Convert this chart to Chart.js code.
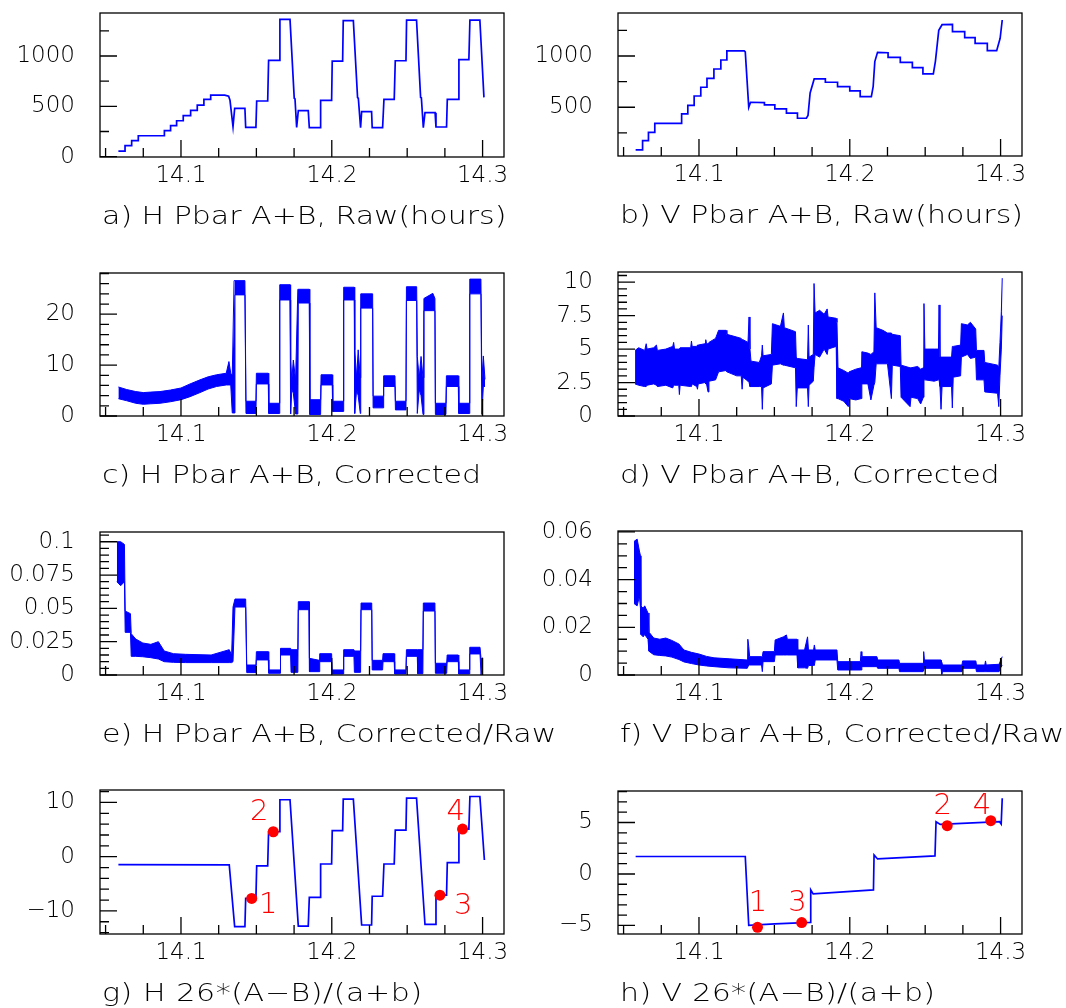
<!DOCTYPE html>
<html>
<head>
<meta charset="utf-8">
<script src="https://cdn.jsdelivr.net/npm/chart.js@4.4.1/dist/chart.umd.min.js"></script>
<style>
  html, body { margin: 0; padding: 0; background: #fff; }
  #page { position: relative; width: 1066px; height: 1008px; overflow: hidden; background: #fff; }
  #page canvas { position: absolute; }
</style>
</head>
<body>
<div id="page"></div>
<script>
// ---- time axis (hours) ----
const X_MIN = 14.0463, X_MAX = 14.3142;
const X_MAJOR = [14.1, 14.2, 14.3];
const X_MINOR_STEP = 0.025;

// ---- a) H Pbar A+B raw sum: [hour, counts] ----
const hRaw = [[14.0585,56],[14.0629,56],[14.0629,109],[14.0673,109],[14.0673,159],[14.0717,159],[14.0717,208],[14.0890,208],[14.0890,258],[14.0931,258],[14.0931,308],[14.0971,308],[14.0971,357],[14.1015,357],[14.1015,407],[14.1064,407],[14.1064,460],[14.1108,460],[14.1108,513],[14.1152,513],[14.1152,569],[14.1197,569],[14.1197,612],[14.1290,612],[14.1316,600],[14.1325,560],[14.1345,298],[14.1356,480],[14.1424,480],[14.1429,291],[14.1497,291],[14.1502,553],[14.1575,553],[14.1581,957],[14.1652,957],[14.1656,1364],[14.1723,1364],[14.1751,580],[14.1756,575],[14.1767,290],[14.1778,457],[14.1844,457],[14.1851,288],[14.1922,288],[14.1926,560],[14.1999,560],[14.2003,950],[14.2072,950],[14.2076,1351],[14.2143,1351],[14.2171,586],[14.2176,580],[14.2191,288],[14.2198,447],[14.2264,447],[14.2268,288],[14.2337,288],[14.2346,570],[14.2414,570],[14.2421,953],[14.2492,953],[14.2496,1357],[14.2562,1357],[14.2589,589],[14.2594,585],[14.2607,288],[14.2618,437],[14.2685,437],[14.2691,295],[14.2761,295],[14.2766,570],[14.2839,570],[14.2843,963],[14.2909,963],[14.2916,1357],[14.2982,1357],[14.3009,589]];

// ---- b) V Pbar A+B raw sum ----
const vRaw = [[14.0580,84],[14.0626,84],[14.0626,175],[14.0665,175],[14.0665,256],[14.0707,256],[14.0707,344],[14.0885,344],[14.0885,435],[14.0926,435],[14.0926,519],[14.0968,519],[14.0968,610],[14.1012,610],[14.1012,695],[14.1053,695],[14.1053,782],[14.1099,782],[14.1099,873],[14.1145,873],[14.1145,961],[14.1185,961],[14.1185,1049],[14.1300,1049],[14.1307,1040],[14.1330,500],[14.1342,549],[14.1434,545],[14.1434,523],[14.1503,523],[14.1503,484],[14.1580,484],[14.1580,442],[14.1653,442],[14.1653,393],[14.1712,393],[14.1723,420],[14.1737,640],[14.1764,776],[14.1838,776],[14.1838,744],[14.1919,744],[14.1919,701],[14.2000,701],[14.2000,659],[14.2069,659],[14.2069,604],[14.2143,604],[14.2155,700],[14.2166,945],[14.2184,1036],[14.2254,1032],[14.2254,987],[14.2335,987],[14.2335,938],[14.2415,938],[14.2415,886],[14.2485,886],[14.2485,825],[14.2554,825],[14.2568,950],[14.2590,1250],[14.2612,1305],[14.2681,1308],[14.2681,1237],[14.2762,1237],[14.2762,1179],[14.2831,1179],[14.2831,1123],[14.2912,1123],[14.2912,1052],[14.2974,1052],[14.2997,1172],[14.3011,1351]];

// ---- c) H corrected: noise envelope [hour, low, high] ----
const hCorr = [[14.0585,3.4,5.7],[14.0640,3.0,5.2],[14.0700,2.5,4.8],[14.0750,2.3,4.6],[14.0800,2.4,4.7],[14.0861,2.5,4.8],[14.0930,2.8,5.1],[14.1000,3.2,5.5],[14.1060,3.8,6.3],[14.1126,4.6,7.1],[14.1180,5.3,7.7],[14.1236,5.8,8.1],[14.1300,6.1,8.4],[14.1318,6.1,10.7],[14.1330,6.1,8.4],[14.1340,0.6,8.0],[14.1352,0.6,26.6],[14.1358,23.8,26.6],[14.1424,23.8,26.6],[14.1431,0.5,2.9],[14.1497,0.5,2.9],[14.1500,6.3,8.4],[14.1579,6.3,8.4],[14.1582,0.5,2.5],[14.1652,0.5,2.5],[14.1655,22.8,25.8],[14.1723,22.8,25.8],[14.1727,0.4,11.0],[14.1735,5.2,7.1],[14.1745,4.5,11.0],[14.1760,0.4,7.1],[14.1775,0.4,24.9],[14.1778,22.2,24.9],[14.1851,22.2,24.9],[14.1854,0.3,3.2],[14.1926,0.3,3.2],[14.1929,6.1,8.1],[14.2003,6.1,8.1],[14.2006,0.9,2.9],[14.2076,0.9,2.9],[14.2079,22.8,25.3],[14.2149,22.8,25.3],[14.2152,0.5,13.0],[14.2165,5.2,7.5],[14.2175,4.0,13.0],[14.2189,0.5,7.5],[14.2192,21.2,24.0],[14.2271,21.2,24.0],[14.2274,1.6,3.9],[14.2341,1.6,3.9],[14.2344,5.8,7.9],[14.2419,5.8,7.9],[14.2422,1.2,2.9],[14.2492,1.2,2.9],[14.2495,22.7,25.4],[14.2563,22.7,25.4],[14.2567,0.5,11.7],[14.2580,5.2,7.5],[14.2592,4.0,11.7],[14.2605,0.3,7.5],[14.2611,20.7,23.1],[14.2670,20.7,24.1],[14.2684,20.7,23.1],[14.2687,0.3,2.5],[14.2757,0.3,2.5],[14.2760,5.8,7.9],[14.2839,5.8,7.9],[14.2842,0.5,2.5],[14.2912,0.5,2.5],[14.2915,24.0,26.9],[14.2989,24.0,26.9],[14.2995,0.3,7.0],[14.3005,5.8,11.8],[14.3016,5.8,7.2]];

// ---- d) V corrected ----
const vCorr = [[14.0576,2.4,4.9],[14.0600,2.3,5.1],[14.0640,2.2,4.9],[14.0650,2.2,5.4],[14.0656,2.3,5.0],[14.0700,2.4,5.1],[14.0718,2.3,5.3],[14.0724,2.2,4.9],[14.0780,2.3,5.0],[14.0826,2.1,5.2],[14.0832,2.3,5.5],[14.0838,2.3,5.0],[14.0866,2.3,5.0],[14.0870,1.6,5.0],[14.0875,2.3,5.1],[14.0945,2.2,5.1],[14.0950,2.2,5.6],[14.0955,2.4,5.2],[14.0985,2.2,5.2],[14.0990,2.0,5.3],[14.0995,2.4,5.3],[14.1040,2.5,5.4],[14.1045,2.4,5.7],[14.1050,2.4,5.4],[14.1060,1.8,5.4],[14.1066,2.6,5.5],[14.1110,2.7,5.8],[14.1130,3.3,6.4],[14.1180,3.4,6.4],[14.1185,3.3,6.1],[14.1250,3.0,5.9],[14.1280,3.0,5.8],[14.1286,2.0,5.7],[14.1292,2.9,5.7],[14.1325,2.6,5.5],[14.1332,2.5,7.4],[14.1338,2.2,5.0],[14.1345,2.2,4.1],[14.1400,2.2,4.0],[14.1415,2.2,4.5],[14.1420,0.5,5.3],[14.1425,2.1,4.5],[14.1480,2.4,4.6],[14.1487,3.8,6.9],[14.1540,3.9,6.7],[14.1560,3.8,7.7],[14.1566,3.8,6.6],[14.1640,3.6,6.3],[14.1645,0.7,4.4],[14.1652,2.1,4.3],[14.1720,2.1,4.2],[14.1725,0.7,6.8],[14.1730,2.3,4.4],[14.1758,2.6,4.6],[14.1763,3.6,9.9],[14.1770,4.6,7.7],[14.1800,4.4,7.9],[14.1830,5.0,7.6],[14.1850,4.6,8.0],[14.1856,5.0,7.4],[14.1910,5.2,7.3],[14.1915,1.3,7.0],[14.1922,1.3,3.6],[14.1960,1.1,3.4],[14.1990,0.7,3.2],[14.1996,1.3,3.3],[14.2040,1.2,3.5],[14.2075,1.3,3.6],[14.2080,2.4,4.8],[14.2120,2.4,4.7],[14.2140,1.2,4.6],[14.2160,2.3,4.8],[14.2166,2.5,9.2],[14.2175,3.9,6.6],[14.2220,3.9,6.4],[14.2250,3.9,6.2],[14.2276,1.3,6.2],[14.2282,3.8,6.1],[14.2335,3.7,6.0],[14.2340,1.4,3.8],[14.2400,0.7,3.6],[14.2406,1.4,3.6],[14.2450,1.3,3.7],[14.2470,0.9,3.5],[14.2488,1.4,3.6],[14.2492,2.7,8.4],[14.2498,2.7,5.0],[14.2560,2.6,5.0],[14.2588,2.7,5.0],[14.2592,2.7,8.3],[14.2598,2.2,4.4],[14.2605,0.5,4.4],[14.2612,2.2,4.4],[14.2675,2.2,4.4],[14.2680,0.6,5.2],[14.2686,2.9,5.2],[14.2735,3.0,5.3],[14.2740,4.4,6.9],[14.2780,4.6,6.8],[14.2800,4.3,7.0],[14.2835,4.4,6.5],[14.2840,2.7,4.9],[14.2890,2.7,4.9],[14.2895,1.8,4.0],[14.2980,1.7,3.8],[14.2988,0.7,3.6],[14.2996,3.0,5.5],[14.3005,5.0,7.8],[14.3011,7.5,10.3]];

// ---- e) H corrected / raw ----
const hRatio = [[14.0575,0.070,0.100],[14.0600,0.067,0.100],[14.0625,0.070,0.098],[14.0630,0.032,0.048],[14.0665,0.032,0.046],[14.0670,0.014,0.031],[14.0700,0.014,0.027],[14.0747,0.0137,0.024],[14.0800,0.013,0.023],[14.0850,0.012,0.025],[14.0889,0.010,0.018],[14.0950,0.0095,0.016],[14.1031,0.0093,0.0155],[14.1200,0.0093,0.015],[14.1320,0.0093,0.019],[14.1336,0.0093,0.015],[14.1345,0.010,0.051],[14.1358,0.051,0.057],[14.1429,0.051,0.057],[14.1436,0.0018,0.0075],[14.1497,0.0018,0.0075],[14.1500,0.0113,0.0175],[14.1579,0.0113,0.0175],[14.1582,0.0013,0.0038],[14.1657,0.0013,0.0038],[14.1660,0.015,0.020],[14.1727,0.015,0.020],[14.1730,0.002,0.019],[14.1775,0.002,0.019],[14.1778,0.049,0.055],[14.1849,0.049,0.055],[14.1852,0.0025,0.0125],[14.1917,0.0025,0.011],[14.1920,0.010,0.016],[14.1999,0.010,0.016],[14.2002,0.0008,0.0038],[14.2076,0.0008,0.0038],[14.2079,0.014,0.019],[14.2147,0.014,0.019],[14.2150,0.002,0.018],[14.2191,0.002,0.018],[14.2194,0.049,0.054],[14.2265,0.049,0.054],[14.2268,0.0038,0.011],[14.2337,0.0038,0.011],[14.2340,0.010,0.016],[14.2414,0.010,0.016],[14.2417,0.0008,0.0038],[14.2492,0.0008,0.0038],[14.2495,0.014,0.019],[14.2567,0.014,0.019],[14.2570,0.001,0.019],[14.2604,0.001,0.019],[14.2607,0.048,0.054],[14.2684,0.048,0.054],[14.2687,0.0013,0.0088],[14.2762,0.0013,0.0088],[14.2765,0.010,0.015],[14.2839,0.010,0.015],[14.2842,0.0008,0.0038],[14.2912,0.0008,0.0038],[14.2915,0.0158,0.0208],[14.2983,0.0158,0.0208],[14.2990,0.0,0.012],[14.3000,0.009,0.013]];

// ---- f) V corrected / raw ----
const vRatio = [[14.0569,0.030,0.056],[14.0590,0.029,0.057],[14.0605,0.033,0.052],[14.0612,0.028,0.050],[14.0615,0.017,0.029],[14.0630,0.016,0.028],[14.0640,0.017,0.029],[14.0662,0.015,0.026],[14.0668,0.010,0.018],[14.0700,0.0085,0.0155],[14.0740,0.0082,0.0150],[14.0780,0.0080,0.0155],[14.0820,0.0075,0.0145],[14.0867,0.0065,0.0130],[14.0900,0.0055,0.0105],[14.0950,0.0048,0.0095],[14.1000,0.0042,0.0088],[14.1050,0.0038,0.0078],[14.1100,0.0035,0.0072],[14.1200,0.0030,0.0068],[14.1320,0.0028,0.0063],[14.1324,0.0028,0.0150],[14.1330,0.0042,0.0120],[14.1336,0.0042,0.0077],[14.1415,0.0042,0.0077],[14.1420,0.0014,0.0077],[14.1425,0.0056,0.0098],[14.1500,0.0056,0.0098],[14.1505,0.0084,0.0147],[14.1560,0.0084,0.0160],[14.1580,0.0084,0.0168],[14.1586,0.0084,0.0150],[14.1650,0.0084,0.0150],[14.1655,0.0030,0.0105],[14.1700,0.0030,0.0105],[14.1720,0.0028,0.0160],[14.1726,0.0040,0.0105],[14.1760,0.0040,0.0105],[14.1765,0.0040,0.0126],[14.1771,0.0063,0.0105],[14.1915,0.0063,0.0105],[14.1920,0.0021,0.0056],[14.2070,0.0021,0.0056],[14.2075,0.0021,0.0098],[14.2080,0.0035,0.0077],[14.2180,0.0035,0.0077],[14.2185,0.0028,0.0063],[14.2326,0.0028,0.0063],[14.2330,0.0014,0.0049],[14.2486,0.0014,0.0049],[14.2490,0.0014,0.0098],[14.2495,0.0028,0.0063],[14.2605,0.0028,0.0063],[14.2610,0.0003,0.0063],[14.2615,0.0014,0.0042],[14.2744,0.0014,0.0042],[14.2748,0.0028,0.0059],[14.2836,0.0028,0.0059],[14.2840,0.0014,0.0042],[14.2895,0.0014,0.0042],[14.2900,0.0014,0.0059],[14.2905,0.0014,0.0042],[14.2990,0.0014,0.0045],[14.3000,0.0030,0.0060],[14.3011,0.0040,0.0077]];

// ---- g) H 26*(A-B)/(a+b) ----
const hPos = [[14.0585,-1.45],[14.1320,-1.5],[14.1356,-12.9],[14.1424,-12.9],[14.1429,-7.7],[14.1497,-7.7],[14.1502,-1.7],[14.1575,-1.7],[14.1581,4.6],[14.1652,4.6],[14.1656,10.5],[14.1723,10.5],[14.1778,-12.8],[14.1844,-12.8],[14.1851,-7.5],[14.1922,-7.5],[14.1926,-1.35],[14.1999,-1.35],[14.2003,4.8],[14.2072,4.8],[14.2076,10.6],[14.2143,10.6],[14.2198,-12.6],[14.2264,-12.6],[14.2268,-7.3],[14.2337,-7.3],[14.2346,-1.35],[14.2414,-1.35],[14.2421,4.9],[14.2492,4.9],[14.2496,10.8],[14.2562,10.8],[14.2618,-12.5],[14.2685,-12.5],[14.2691,-7.1],[14.2761,-7.1],[14.2766,-1.1],[14.2839,-1.1],[14.2843,5.1],[14.2909,5.1],[14.2916,11.1],[14.2982,11.1],[14.3012,-0.6]];
const hMarkTime  = [14.1469, 14.1612, 14.2717, 14.2867];
const hMarkValue = [-7.7, 4.6, -7.1, 5.1];
const hMarkLabel = ['1', '2', '3', '4'];

// ---- h) V 26*(A-B)/(a+b) ----
const vPos = [[14.0580,1.70],[14.1307,1.70],[14.1330,-5.00],[14.1503,-4.85],[14.1738,-4.70],[14.1741,-1.55],[14.1757,-1.94],[14.2157,-1.55],[14.2161,1.85],[14.2184,1.46],[14.2565,1.75],[14.2572,5.08],[14.2600,4.82],[14.2993,5.08],[14.3004,4.85],[14.3011,7.35]];
const vMarkTime  = [14.1388, 14.2646, 14.1681, 14.2935];
const vMarkValue = [-5.18, 4.69, -4.72, 5.18];
const vMarkLabel = ['1', '2', '3', '4'];

// ---- styling ----
const BLUE = '#0000ff', RED = '#ff0000', INK = '#000000';
const FONT_FAMILY = '"DejaVu Sans", "Liberation Sans", sans-serif';
const TICK_FONT = { family: FONT_FAMILY, size: 23, weight: 200 };
const CAPTION_SIZE = 24, CAPTION_STRETCH = 1.25;
const MAJOR_LEN = 17, MINOR_LEN = 9;
const AXIS_W = 100, AXIS_H = 45, PAD_TOP = 10, PAD_RIGHT = 60, PAD_BOTTOM = 35;
const hMarkOffset = [[16.6, 7.5], [-14.1, -19.2], [23.3, 11.7], [-6.9, -16.5]];
const vMarkOffset = [[0.4, -24], [-4.4, -19], [-4.1, -19.4], [-8.7, -14]];

const page = document.getElementById('page');

function stepLine(pairs) {
  return { data: pairs.map(([x, y]) => ({ x, y })), borderColor: BLUE, borderWidth: 1.7,
           pointRadius: 0, fill: false, tension: 0 };
}
function band(rows) {
  return [
    { data: rows.map(r => ({ x: r[0], y: r[2] })), borderColor: BLUE, borderWidth: 1,
      pointRadius: 0, fill: false, tension: 0 },
    { data: rows.map(r => ({ x: r[0], y: r[1] })), borderColor: BLUE, borderWidth: 1,
      pointRadius: 0, fill: '-1', backgroundColor: BLUE, tension: 0 }
  ];
}
function markers(times, values) {
  return { data: times.map((t, i) => ({ x: t, y: values[i] })), showLine: false,
           pointRadius: 5.5, pointBackgroundColor: RED, pointBorderWidth: 0, borderColor: RED };
}

function forEachTick(min, max, step, majors, fn) {
  const k0 = Math.ceil(min / step - 1e-6), k1 = Math.floor(max / step + 1e-6);
  for (let k = k0; k <= k1; k++) {
    const v = k * step;
    fn(v, majors.some(m => Math.abs(m - v) < step * 1e-3));
  }
}
function fmt(v) {
  return String(+v.toFixed(6)).replace('-', '\u2212');
}

// frame, inward ticks, caption and marker numbers
function hbookPlugin(p) {
  return {
    id: 'hbook',
    afterDatasetsDraw(chart) {
      const ctx = chart.ctx, a = chart.chartArea;
      const xs = chart.scales.x, ys = chart.scales.y;
      ctx.save();
      ctx.strokeStyle = INK;
      ctx.lineWidth = 1.3;
      ctx.strokeRect(a.left, a.top, a.right - a.left, a.bottom - a.top);
      ctx.beginPath();
      forEachTick(xs.min, xs.max, X_MINOR_STEP, X_MAJOR, (v, major) => {
        const px = xs.getPixelForValue(v);
        ctx.moveTo(px, a.bottom);
        ctx.lineTo(px, a.bottom - (major ? MAJOR_LEN : MINOR_LEN));
      });
      forEachTick(ys.min, ys.max, p.yMinor, p.yMajor, (v, major) => {
        const py = ys.getPixelForValue(v);
        ctx.moveTo(a.left, py);
        ctx.lineTo(a.left + (major ? MAJOR_LEN : MINOR_LEN), py);
      });
      ctx.stroke();

      // caption under the axis, stretched to the wide plotter lettering
      ctx.save();
      ctx.fillStyle = INK;
      ctx.font = '200 ' + CAPTION_SIZE + 'px ' + FONT_FAMILY;
      ctx.textAlign = 'left';
      ctx.textBaseline = 'alphabetic';
      ctx.translate(a.left + 2, a.bottom + 67);
      ctx.scale(CAPTION_STRETCH, 1);
      if ('letterSpacing' in ctx) {
        ctx.letterSpacing = '0px';
        const w0 = ctx.measureText(p.caption).width;
        const n = [...p.caption].length;
        const ls = (p.captionWidth / CAPTION_STRETCH - w0) / (n - 1);
        ctx.letterSpacing = Math.max(0, ls).toFixed(2) + 'px';
      }
      ctx.fillText(p.caption, 0, 0);
      ctx.restore();

      if (p.marks) {
        const meta = chart.getDatasetMeta(0);
        ctx.fillStyle = RED;
        ctx.font = '200 29px ' + FONT_FAMILY;
        ctx.textAlign = 'center';
        ctx.textBaseline = 'middle';
        meta.data.forEach((pt, i) => {
          const [dx, dy] = p.marks.offset[i];
          ctx.fillText(p.marks.labels[i], pt.x + dx, pt.y + dy);
        });
      }
      ctx.restore();
    }
  };
}

function makePanel(p) {
  const W = AXIS_W + (p.R - p.L) + PAD_RIGHT;
  const H = PAD_TOP + (p.B - p.T) + AXIS_H + PAD_BOTTOM;
  const cv = document.createElement('canvas');
  cv.width = W; cv.height = H;
  cv.style.left = (p.L - AXIS_W) + 'px';
  cv.style.top = (p.T - PAD_TOP) + 'px';
  cv.style.width = W + 'px'; cv.style.height = H + 'px';
  page.appendChild(cv);
  new Chart(cv, {
    type: 'line',
    data: { datasets: p.datasets },
    options: {
      responsive: false, animation: false, devicePixelRatio: 1,
      layout: { padding: { left: 0, top: PAD_TOP, right: PAD_RIGHT, bottom: PAD_BOTTOM } },
      plugins: { legend: { display: false }, tooltip: { enabled: false }, title: { display: false } },
      scales: {
        x: {
          type: 'linear', position: 'bottom', min: X_MIN, max: X_MAX,
          grid: { display: false, drawTicks: false }, border: { display: false },
          afterBuildTicks: s => { s.ticks = X_MAJOR.map(v => ({ value: v })); },
          afterFit: s => { s.height = AXIS_H; s.paddingLeft = 0; s.paddingRight = 0; },
          ticks: { autoSkip: false, maxRotation: 0, minRotation: 0, padding: 5, color: INK,
                   font: TICK_FONT, callback: v => v.toFixed(1) }
        },
        y: {
          type: 'linear', position: 'left', min: p.yMin, max: p.yMax,
          grid: { display: false, drawTicks: false }, border: { display: false },
          afterBuildTicks: s => { s.ticks = p.yMajor.map(v => ({ value: v })); },
          afterFit: s => { s.width = AXIS_W; s.paddingTop = 0; s.paddingBottom = 0; },
          ticks: { autoSkip: false, padding: 25, color: INK, font: TICK_FONT, callback: v => fmt(v) }
        }
      }
    },
    plugins: [hbookPlugin(p)]
  });
}

const panels = [
  { L: 100, R: 504, T: 13, B: 157, yMin: -3, yMax: 1427, yMajor: [0, 500, 1000], yMinor: 250,
    caption: 'a) H Pbar A+B, Raw(hours)', captionWidth: 398, datasets: [stepLine(hRaw)] },
  { L: 618, R: 1022, T: 13, B: 156, yMin: 25, yMax: 1419, yMajor: [500, 1000], yMinor: 250,
    caption: 'b) V Pbar A+B, Raw(hours)', captionWidth: 400, datasets: [stepLine(vRaw)] },
  { L: 100, R: 504, T: 273, B: 416, yMin: 0, yMax: 28.1, yMajor: [0, 10, 20], yMinor: 2,
    caption: 'c) H Pbar A+B, Corrected', captionWidth: 372, datasets: band(hCorr) },
  { L: 618, R: 1022, T: 272, B: 416, yMin: 0, yMax: 10.76, yMajor: [0, 2.5, 5, 7.5, 10], yMinor: 0.5,
    caption: 'd) V Pbar A+B, Corrected', captionWidth: 367, datasets: band(vCorr) },
  { L: 100, R: 504, T: 532, B: 675, yMin: 0, yMax: 0.1073, yMajor: [0, 0.025, 0.05, 0.075, 0.1], yMinor: 0.005,
    caption: 'e) H Pbar A+B, Corrected/Raw', captionWidth: 454, datasets: band(hRatio) },
  { L: 618, R: 1022, T: 531, B: 675, yMin: 0, yMax: 0.0604, yMajor: [0, 0.02, 0.04, 0.06], yMinor: 0.005,
    caption: 'f) V Pbar A+B, Corrected/Raw', captionWidth: 442, datasets: band(vRatio) },
  { L: 100, R: 504, T: 790, B: 934, yMin: -14.26, yMax: 12.3, yMajor: [-10, 0, 10], yMinor: 2,
    caption: 'g) H 26*(A\u2212B)/(a+b)', captionWidth: 320,
    datasets: [markers(hMarkTime, hMarkValue), stepLine(hPos)],
    marks: { labels: hMarkLabel, offset: hMarkOffset } },
  { L: 618, R: 1022, T: 791, B: 934, yMin: -5.83, yMax: 8.06, yMajor: [-5, 0, 5], yMinor: 1,
    caption: 'h) V 26*(A\u2212B)/(a+b)', captionWidth: 315,
    datasets: [markers(vMarkTime, vMarkValue), stepLine(vPos)],
    marks: { labels: vMarkLabel, offset: vMarkOffset } }
];

panels.forEach(makePanel);
</script>
</body>
</html>
